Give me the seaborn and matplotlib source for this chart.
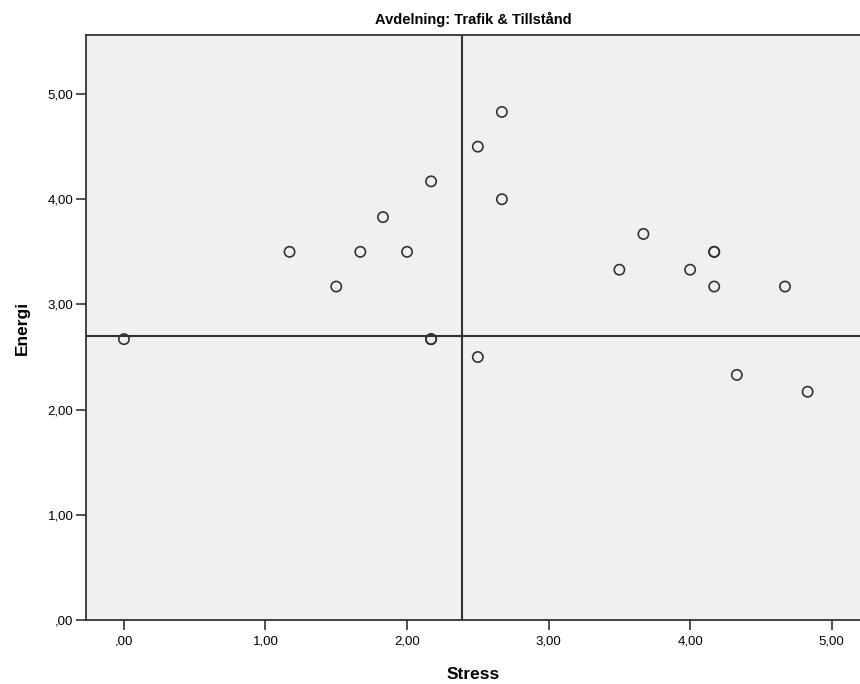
import pandas as pd
import matplotlib
matplotlib.use("Agg")
import matplotlib.pyplot as plt
import seaborn as sns
from matplotlib.ticker import FuncFormatter

sns.set_style("white")
plt.rcParams['font.family'] = ['Liberation Sans Narrow', 'Liberation Sans', 'DejaVu Sans']
plt.rcParams['text.color'] = 'black'
plt.rcParams['axes.labelcolor'] = 'black'

# Stress / Energi per respondent (duplicates kept)
stress = [0.00, 1.17, 1.50, 1.67, 1.83, 2.00, 2.17, 2.17, 2.17,
          2.50, 2.50, 2.67, 2.67, 3.50, 3.67, 4.00, 4.17, 4.17, 4.17,
          4.33, 4.67, 4.83]
energi = [2.67, 3.50, 3.17, 3.50, 3.83, 3.50, 4.17, 2.67, 2.67,
          4.50, 2.50, 4.83, 4.00, 3.33, 3.67, 3.33, 3.50, 3.50, 3.17,
          2.33, 3.17, 2.17]
ref_x = 2.39
ref_y = 2.70
title = "Avdelning: Trafik & Tillstånd"

df = pd.DataFrame({"Stress": stress, "Energi": energi})

fig = plt.figure(figsize=(8.6, 6.84), dpi=100)
ax = fig.add_axes([0.1, 0.0936, 0.9, 0.855])
ax.set_facecolor("#f0f0f0")

sns.scatterplot(data=df, x="Stress", y="Energi", ax=ax, marker="o",
                s=55, facecolor="none", edgecolor="#333333", linewidth=1.2,
                zorder=3)

ax.axvline(ref_x, color="#333333", lw=1.5, zorder=2)
ax.axhline(ref_y, color="#333333", lw=1.5, zorder=2)

ax.set_xlim(-0.268, 5.2)
ax.set_ylim(0, 5.56)
ax.set_xticks([0, 1, 2, 3, 4, 5])
ax.set_yticks([0, 1, 2, 3, 4, 5])


def spss_fmt(v, p):
    s = f"{v:.2f}".replace(".", ",")
    return s[1:] if s.startswith("0") else s


ax.xaxis.set_major_formatter(FuncFormatter(spss_fmt))
ax.yaxis.set_major_formatter(FuncFormatter(spss_fmt))

ax.tick_params(axis="both", bottom=True, left=True, direction="out",
               length=7, width=1.2, color="#333333", labelsize=9.5,
               labelcolor="#000000", pad=2)
ax.tick_params(axis="x", pad=4)

for side in ["left", "bottom", "top"]:
    ax.spines[side].set_color("#333333")
    ax.spines[side].set_linewidth(1.3)
ax.spines["right"].set_visible(False)

ax.set_xlabel("Stress", fontsize=12.5, fontweight="bold", labelpad=14)
ax.set_ylabel("Energi", fontsize=12.5, fontweight="bold", labelpad=13)
ax.set_title(title, fontsize=10.5, fontweight="bold", pad=8)

plt.savefig("out.png", dpi=100)
plt.close()
